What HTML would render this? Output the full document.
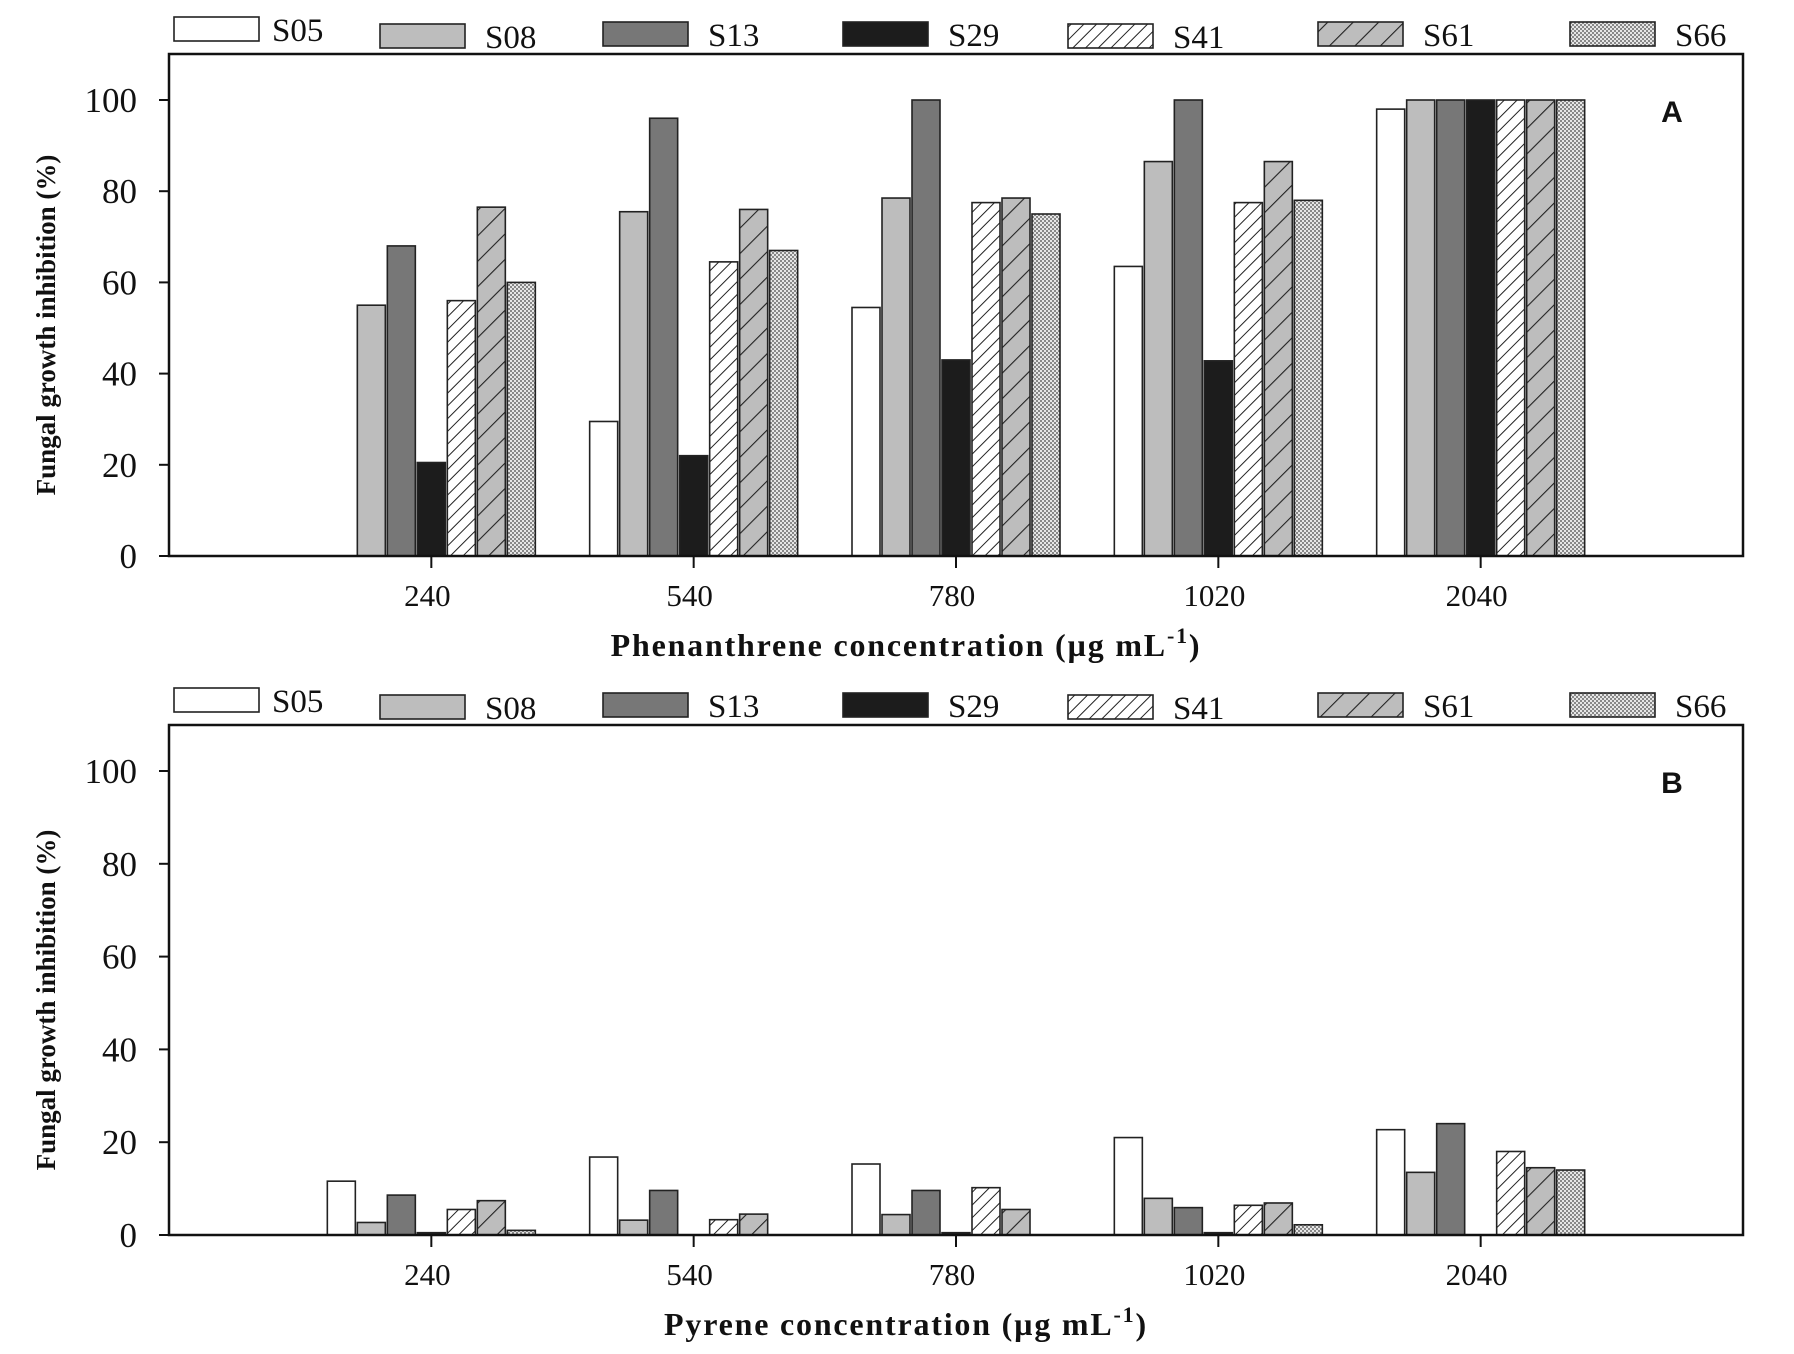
<!DOCTYPE html>
<html><head><meta charset="utf-8"><style>
html,body{margin:0;padding:0;background:#fff}
svg{display:block}
text{font-family:"Liberation Serif",serif;fill:#111}
</style></head><body>
<svg id="chart" width="1794" height="1354" viewBox="0 0 1794 1354" xmlns="http://www.w3.org/2000/svg">
<defs>
<pattern id="p41" patternUnits="userSpaceOnUse" width="9" height="9" patternTransform="rotate(45)"><rect width="9" height="9" fill="#fff"/><line x1="0" y1="0" x2="0" y2="9" stroke="#222" stroke-width="2"/></pattern>
<pattern id="p61" patternUnits="userSpaceOnUse" width="18" height="18" patternTransform="rotate(45)"><rect width="18" height="18" fill="#bdbdbd"/><line x1="0" y1="0" x2="0" y2="18" stroke="#222" stroke-width="2.2"/></pattern>
<pattern id="p66" patternUnits="userSpaceOnUse" width="4" height="4"><rect width="4" height="4" fill="#e6e6e6"/><rect width="2" height="2" fill="#888"/><rect x="2" y="2" width="2" height="2" fill="#888"/></pattern>
</defs>
</svg>
<script>
const categories = ["240","540","780","1020","2040"];
const seriesNames = ["S05","S08","S13","S29","S41","S61","S66"];
const phenS05 = [0, 29.5, 54.5, 63.5, 98];
const phenS08 = [55, 75.5, 78.5, 86.5, 100];
const phenS13 = [68, 96, 100, 100, 100];
const phenS29 = [20.5, 22, 43, 42.8, 100];
const phenS41 = [56, 64.5, 77.5, 77.5, 100];
const phenS61 = [76.5, 76, 78.5, 86.5, 100];
const phenS66 = [60, 67, 75, 78, 100];
const pyrS05 = [11.6, 16.8, 15.3, 21, 22.7];
const pyrS08 = [2.7, 3.2, 4.4, 7.9, 13.5];
const pyrS13 = [8.6, 9.6, 9.6, 5.9, 24];
const pyrS29 = [0.5, 0, 0.5, 0.5, 0];
const pyrS41 = [5.5, 3.3, 10.2, 6.4, 18];
const pyrS61 = [7.4, 4.5, 5.5, 6.9, 14.5];
const pyrS66 = [1, 0, 0, 2.2, 14];
const yTicks = [0,20,40,60,80,100];

const fills = ["#fff","#bdbdbd","#777","#1c1c1c","url(#p41)","url(#p61)","url(#p66)"];
const NS = "http://www.w3.org/2000/svg";
const svg = document.getElementById("chart");
function mk(tag, attrs, parent){const e=document.createElementNS(NS,tag);for(const k in attrs)e.setAttribute(k,attrs[k]);(parent||svg).appendChild(e);return e;}

function panel(id, top, y0, y100, data, title, letter, legendDy){
  const L=169, R=1743;
  const g = mk("g",{});
  
  
  const yScale = v => y0 + (y100 - y0) * v / 100;
  const xScale = i => L + (i+1)*(R-L)/6;
  const pitch = 30, bw = 28;
  data.forEach((arr, s) => {
    arr.forEach((v, i) => {
      if (v <= 0) return;
      const cx = xScale(i) + (s-3)*pitch;
      const r = mk("rect",{x:cx-bw/2, y:yScale(v), width:bw, height:y0-yScale(v), fill:fills[s], stroke:"#222","stroke-width":1.6}, g);
      
      
    });
  });
  const f = mk("rect",{x:L,y:top,width:R-L,height:y0-top,fill:"none",stroke:"#111","stroke-width":2.5},g);
  
  
  yTicks.forEach(t => {
    const y=yScale(t);
    mk("line",{x1:L-10,x2:L,y1:y,y2:y,stroke:"#111","stroke-width":2},g);
    const tx = mk("text",{x:137,y:y+12,"text-anchor":"end","font-size":35},g);
    tx.textContent=t;
    
    
  });
  categories.forEach((c,i) => {
    const x=xScale(i);
    mk("line",{x1:x,x2:x,y1:y0,y2:y0+12,stroke:"#111","stroke-width":2},g);
    const tx = mk("text",{x:x-4,y:y0+50,"text-anchor":"middle","font-size":31},g);
    tx.textContent=c;
    
    
  });
  const cy=(top+y0)/2+20;
  const yt = mk("text",{x:0,y:0,"text-anchor":"middle","font-size":27,"font-weight":"bold",transform:`translate(55 ${cy}) rotate(-90)`},g);
  yt.textContent="Fungal growth inhibition (%)";
  
  
  const xt = mk("text",{x:906,y:y0+100,"text-anchor":"middle","font-size":32,"font-weight":"bold","letter-spacing":"1.8"},g);
  xt.innerHTML = title + ' (µg mL<tspan dy="-13" font-size="22">-1</tspan><tspan dy="13">)</tspan>';
  
  
  const lt = mk("text",{x:1672,y:top+68,"text-anchor":"middle","font-size":30,"font-weight":"bold",style:"font-family:'Liberation Sans',sans-serif"},g);
  lt.textContent=letter;
  
  
  const boxX=[174,380,603,843,1068,1318,1570];
  const boxY=[17,24,22,22,24,22,22];
  seriesNames.forEach((n,s) => {
    const lg = mk("g",{},g);
    
    
    mk("rect",{x:boxX[s],y:boxY[s]+legendDy,width:85,height:24,fill:fills[s],stroke:"#222","stroke-width":1.6},lg);
    const t = mk("text",{x:boxX[s]+(s===0?98:105),y:boxY[s]+legendDy+24,"font-size":33},lg);
    t.textContent=n;
  });
}
panel("panel-a-phenanthrene", 54, 556, 100,
  [phenS05,phenS08,phenS13,phenS29,phenS41,phenS61,phenS66],
  "Phenanthrene concentration", "A", 0);
panel("panel-b-pyrene", 725, 1235, 771,
  [pyrS05,pyrS08,pyrS13,pyrS29,pyrS41,pyrS61,pyrS66],
  "Pyrene concentration", "B", 671);
</script>
</body></html>
